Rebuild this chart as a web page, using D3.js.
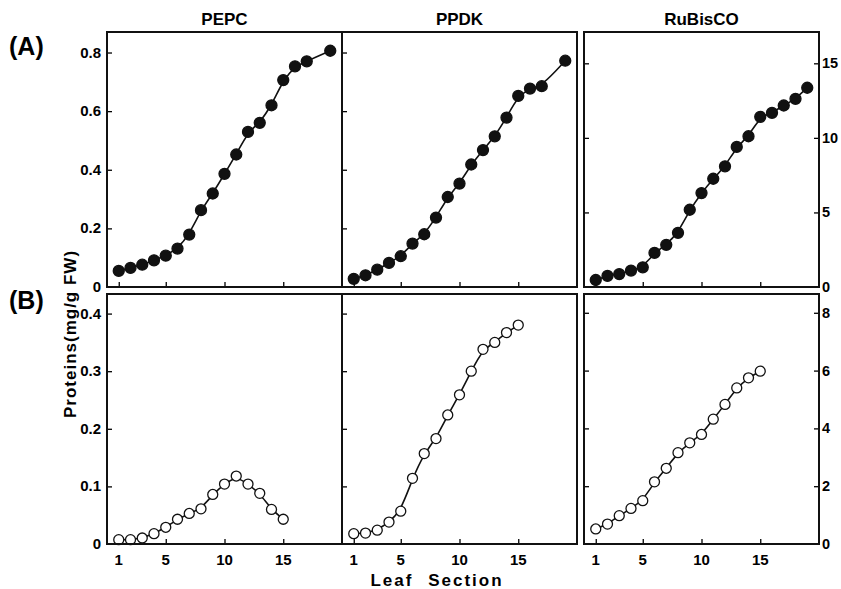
<!DOCTYPE html>
<html>
<head>
<meta charset="utf-8">
<script src="https://cdn.jsdelivr.net/npm/d3@7"></script>
<style>
  body { margin: 0; background: #fff; }
  svg { font-family: 'Liberation Sans', Arial, sans-serif; font-weight: bold; }
  .tick-label { font-size: 15px; }
</style>
</head>
<body>
<div id="chart"></div>
<script>
// leaf sections
let sectionsTop = [1, 2, 3, 4, 5, 6, 7, 8, 9, 10, 11, 12, 13, 14, 15, 16, 17, 19]
let sectionsRub = [1, 2, 3, 4, 5, 6, 7, 8, 9, 10, 11, 12, 13, 14, 15, 16, 17, 18, 19]
let sectionsBottom = [1, 2, 3, 4, 5, 6, 7, 8, 9, 10, 11, 12, 13, 14, 15]

// (A) total leaf, mg/g FW (RuBisCO on right axis)
let pepcA = [0.055, 0.065, 0.076, 0.091, 0.107, 0.131, 0.179, 0.262, 0.319, 0.386, 0.452, 0.529, 0.56, 0.62, 0.706, 0.753, 0.77, 0.806]
let ppdkA = [0.028, 0.040, 0.059, 0.082, 0.105, 0.148, 0.18, 0.237, 0.307, 0.353, 0.418, 0.467, 0.514, 0.578, 0.652, 0.677, 0.685, 0.772]
let rubiscoA = [0.47, 0.74, 0.87, 1.1, 1.32, 2.29, 2.83, 3.63, 5.18, 6.3, 7.26, 8.09, 9.39, 10.11, 11.41, 11.68, 12.17, 12.62, 13.36]

// (B)
let pepcB = [0.0075, 0.0075, 0.0104, 0.018, 0.029, 0.043, 0.053, 0.061, 0.086, 0.104, 0.118, 0.104, 0.088, 0.06, 0.043]
let ppdkB = [0.018, 0.019, 0.024, 0.038, 0.057, 0.114, 0.157, 0.183, 0.224, 0.259, 0.30, 0.338, 0.35, 0.367, 0.38]
let rubiscoB = [0.52, 0.69, 0.98, 1.23, 1.5, 2.15, 2.62, 3.16, 3.5, 3.79, 4.32, 4.83, 5.4, 5.75, 5.98]

let titles = ['PEPC', 'PPDK', 'RuBisCO']
let xTicks = [1, 5, 10, 15]
let leftTicksA = [0, 0.2, 0.4, 0.6, 0.8]
let rightTicksA = [0, 5, 10, 15]
let leftTicksB = [0, 0.1, 0.2, 0.3, 0.4]
let rightTicksB = [0, 2, 4, 6, 8]

let width = 841
let height = 589
let panelW = 235
let colX = [107, 342, 584]
let rowY = [32, 294]
let rowH = [255, 250]

let svg = d3.select('#chart').append('svg')
  .attr('width', width)
  .attr('height', height)

let x = d3.scaleLinear().domain([0, 20]).range([0, panelW])

let yScales = [
  [d3.scaleLinear().domain([0, 0.87]).range([rowH[0], 0]), d3.scaleLinear().domain([0, 17.1]).range([rowH[0], 0])],
  [d3.scaleLinear().domain([0, 0.434]).range([rowH[1], 0]), d3.scaleLinear().domain([0, 8.65]).range([rowH[1], 0])]
]
let yTicks = [[leftTicksA, rightTicksA], [leftTicksB, rightTicksB]]

let panels = [
  { row: 0, col: 0, xs: sectionsTop, ys: pepcA, filled: true },
  { row: 0, col: 1, xs: sectionsTop, ys: ppdkA, filled: true },
  { row: 0, col: 2, xs: sectionsRub, ys: rubiscoA, filled: true },
  { row: 1, col: 0, xs: sectionsBottom, ys: pepcB, filled: false },
  { row: 1, col: 1, xs: sectionsBottom, ys: ppdkB, filled: false },
  { row: 1, col: 2, xs: sectionsBottom, ys: rubiscoB, filled: false }
]

panels.forEach(p => {
  let side = p.col === 2 ? 1 : 0
  let y = yScales[p.row][side]
  let h = rowH[p.row]
  let g = svg.append('g')
    .attr('transform', 'translate(' + colX[p.col] + ',' + rowY[p.row] + ')')

  // inward ticks: bottom
  g.append('g')
    .attr('transform', 'translate(0,' + h + ')')
    .call(d3.axisTop(x).tickValues(xTicks).tickSize(5).tickFormat(''))
    .call(a => a.select('.domain').remove())
    .selectAll('line').attr('stroke-width', 1.3)

  // inward ticks: left (skip 0)
  g.append('g')
    .call(d3.axisRight(y).tickValues(yTicks[p.row][side].slice(1)).tickSize(5).tickFormat(''))
    .call(a => a.select('.domain').remove())
    .selectAll('line').attr('stroke-width', 1.3)

  if (p.col === 2) {
    g.append('g')
      .attr('transform', 'translate(' + panelW + ',0)')
      .call(d3.axisLeft(y).tickValues(yTicks[p.row][1].slice(1)).tickSize(5).tickFormat(''))
      .call(a => a.select('.domain').remove())
      .selectAll('line').attr('stroke-width', 1.3)
    g.selectAll('.rlab')
      .data(yTicks[p.row][1])
      .enter()
      .append('text')
      .attr('class', 'tick-label')
      .attr('x', panelW + 3)
      .attr('y', d => y(d) + 5)
      .style('font-size', '14.5px')
      .text(d => d)
  }

  if (p.col === 0) {
    g.selectAll('.llab')
      .data(yTicks[p.row][0])
      .enter()
      .append('text')
      .attr('class', 'tick-label')
      .attr('text-anchor', 'end')
      .attr('x', -6)
      .attr('y', d => y(d) + 5)
      .text(d => d === 0 ? '0' : d3.format('.1f')(d))
  }

  if (p.row === 1) {
    g.selectAll('.xlab')
      .data(xTicks)
      .enter()
      .append('text')
      .attr('class', 'tick-label')
      .attr('text-anchor', 'middle')
      .attr('x', d => x(d))
      .attr('y', h + 21)
      .text(d => d)
  } else {
    g.append('text')
      .attr('text-anchor', 'middle')
      .attr('x', panelW / 2)
      .attr('y', -7)
      .style('font-size', '17px')
      .text(titles[p.col])
  }

  let pts = p.xs.map((d, i) => [d, p.ys[i]])
  let line = d3.line()
    .x(d => x(d[0]))
    .y(d => y(d[1]))
    .curve(d3.curveBasis)

  g.append('path')
    .datum(pts)
    .attr('d', line)
    .attr('fill', 'none')
    .attr('stroke', '#111')
    .attr('stroke-width', 1.6)

  g.selectAll('circle')
    .data(pts)
    .enter()
    .append('circle')
    .attr('cx', d => x(d[0]))
    .attr('cy', d => y(d[1]))
    .attr('r', p.filled ? 5.5 : 5)
    .attr('fill', p.filled ? '#111' : '#fff')
    .attr('stroke', '#111')
    .attr('stroke-width', 1.3)

  g.append('rect')
    .attr('width', panelW)
    .attr('height', h)
    .attr('fill', 'none')
    .attr('stroke', '#111')
    .attr('stroke-width', 2)
})

svg.append('text')
  .attr('x', 9)
  .attr('y', 55)
  .style('font-size', '25px')
  .text('(A)')

svg.append('text')
  .attr('x', 9)
  .attr('y', 309)
  .style('font-size', '25px')
  .text('(B)')

svg.append('text')
  .attr('transform', 'translate(76,334) rotate(-90)')
  .attr('text-anchor', 'middle')
  .style('font-size', '17px')
  .style('letter-spacing', '1px')
  .text('Proteins(mg/g FW)')

svg.append('text')
  .attr('x', 437)
  .attr('y', 586)
  .attr('text-anchor', 'middle')
  .style('font-size', '17px')
  .style('letter-spacing', '2px')
  .style('word-spacing', '8px')
  .text('Leaf Section')
</script>
</body>
</html>
